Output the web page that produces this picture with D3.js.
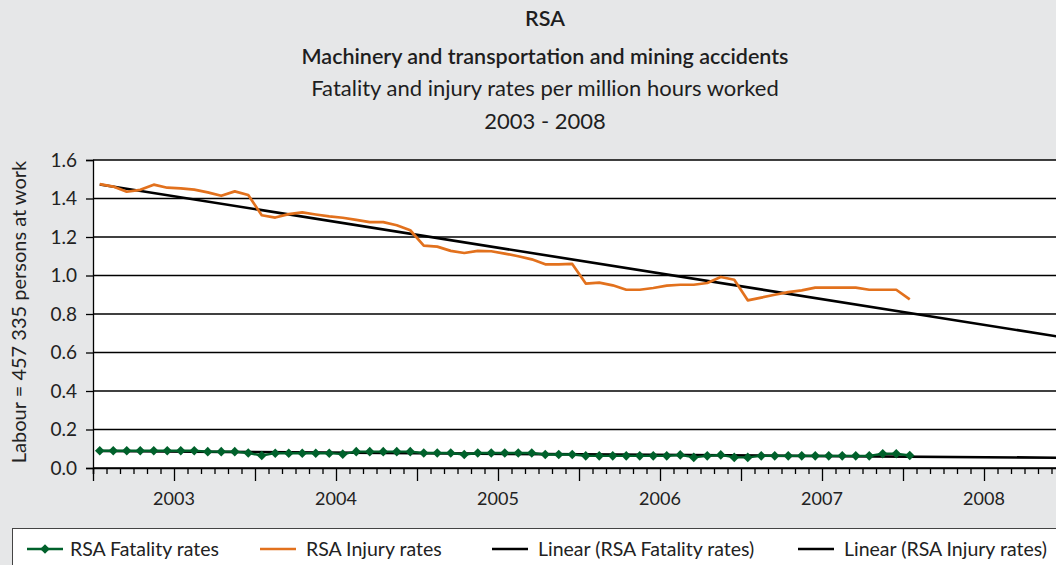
<!DOCTYPE html>
<html>
<head>
<meta charset="utf-8">
<script src="https://cdn.jsdelivr.net/npm/d3@7/dist/d3.min.js"></script>
<style>
  body { margin: 0; background: #e6e7e8; overflow: hidden; }
  svg { display: block; font-family: Lato, "Open Sans", sans-serif; }
</style>
</head>
<body>
<div id="chart"></div>
<script>
// monthly values, Jan 2003 .. Jan 2008
const fatality = [0.09, 0.09, 0.09, 0.09, 0.09, 0.09, 0.09, 0.09, 0.085, 0.085,
  0.085, 0.078, 0.065, 0.077, 0.077, 0.077, 0.077, 0.077, 0.072, 0.085,
  0.085, 0.085, 0.085, 0.085, 0.078, 0.078, 0.078, 0.07, 0.078, 0.078,
  0.078, 0.078, 0.078, 0.07, 0.07, 0.07, 0.063, 0.063, 0.063, 0.063,
  0.063, 0.063, 0.063, 0.068, 0.055, 0.063, 0.068, 0.055, 0.055, 0.063,
  0.063, 0.063, 0.063, 0.063, 0.063, 0.063, 0.063, 0.063, 0.074, 0.074,
  0.065];
const injury = [1.475, 1.462, 1.435, 1.445, 1.472, 1.456, 1.453, 1.446, 1.432, 1.414,
  1.437, 1.418, 1.313, 1.301, 1.319, 1.328, 1.317, 1.307, 1.300, 1.289,
  1.277, 1.277, 1.261, 1.235, 1.155, 1.150, 1.128, 1.117, 1.128, 1.126,
  1.114, 1.100, 1.084, 1.058, 1.058, 1.060, 0.958, 0.963, 0.949, 0.926,
  0.926, 0.935, 0.947, 0.952, 0.952, 0.961, 0.992, 0.978, 0.871, 0.885,
  0.900, 0.914, 0.923, 0.937, 0.937, 0.937, 0.937, 0.926, 0.926, 0.926,
  0.876];
const years = ["2003", "2004", "2005", "2006", "2007", "2008"];
const yTicks = [0, 0.2, 0.4, 0.6, 0.8, 1.0, 1.2, 1.4, 1.6];
const titles = ["RSA", "Machinery and transportation and mining accidents",
  "Fatality and injury rates per million hours worked", "2003 - 2008"];
const yLabel = "Labour = 457 335 persons at work";
const legendLabels = ["RSA Fatality rates", "RSA Injury rates",
  "Linear (RSA Fatality rates)", "Linear (RSA Injury rates)"];

const W = 1056, H = 565;
const plotLeft = 93, plotRight = 1065, plotTop = 160, plotBottom = 468;
const green = "#00612b", orange = "#e2711d";

const svg = d3.select("#chart").append("svg")
  .attr("width", W).attr("height", H);

// titles
const titleY = [26, 64, 96, 129];
svg.selectAll(".title").data(titles).enter().append("text")
  .attr("x", 545).attr("y", (d, i) => titleY[i])
  .attr("text-anchor", "middle")
  .attr("font-size", (d, i) => i < 2 ? 21.5 : 22)
  .attr("font-weight", (d, i) => i < 2 ? 600 : 400)
  .attr("fill", "#1e1e1e")
  .text(d => d);

const x = d3.scaleLinear().domain([0, years.length * 12]).range([plotLeft, plotRight]);
const y = d3.scaleLinear().domain([0, 1.6]).range([plotBottom, plotTop]);

svg.append("rect")
  .attr("x", plotLeft).attr("y", plotTop)
  .attr("width", plotRight - plotLeft).attr("height", plotBottom - plotTop)
  .attr("fill", "#fff");

// gridlines
svg.append("g").selectAll("line").data(yTicks).enter().append("line")
  .attr("x1", plotLeft).attr("x2", plotRight)
  .attr("y1", d => y(d)).attr("y2", d => y(d))
  .attr("stroke", "#000").attr("stroke-width", 1.3);

// y axis
const yAxis = svg.append("g")
  .attr("transform", "translate(" + plotLeft + ",0)")
  .call(d3.axisLeft(y).tickValues(yTicks).tickFormat(d3.format(".1f"))
    .tickSize(7).tickPadding(9));
yAxis.selectAll("text").attr("font-size", 19).attr("fill", "#222")
  .attr("font-family", "Lato, sans-serif");
yAxis.selectAll("line, path").attr("stroke", "#000").attr("stroke-width", 1.3);

svg.append("text")
  .attr("transform", "translate(26," + 312 + ") rotate(-90)")
  .attr("text-anchor", "middle")
  .attr("font-size", 20).attr("fill", "#222")
  .text(yLabel);

// x axis: monthly ticks, long ones every six months
const xAxis = svg.append("g")
  .attr("transform", "translate(0," + plotBottom + ")")
  .call(d3.axisBottom(x).tickValues(d3.range(0, years.length * 12 + 1))
    .tickSize(6).tickFormat(""));
xAxis.selectAll(".tick line")
  .attr("y2", d => d % 6 === 0 ? 13 : 6)
  .attr("stroke", "#000").attr("stroke-width", 1.3);
xAxis.select(".domain").attr("stroke", "#000").attr("stroke-width", 1.6);

svg.append("g").selectAll("text").data(years).enter().append("text")
  .attr("x", (d, i) => x(i * 12 + 6))
  .attr("y", plotBottom + 37)
  .attr("text-anchor", "middle")
  .attr("font-size", 18).attr("fill", "#222")
  .text(d => d);

// linear trends (least squares on month index), extended to axis end
function trend(values) {
  const xs = values.map((d, i) => i);
  const mx = d3.mean(xs), my = d3.mean(values);
  const slope = d3.sum(xs, (v, i) => (v - mx) * (values[i] - my)) /
    d3.sum(xs, v => (v - mx) * (v - mx));
  const b = my - slope * mx;
  const end = years.length * 12 - 0.5;
  return [[0, b], [end, b + slope * end]];
}

const line = d3.line().x(d => x(d[0] + 0.5)).y(d => y(d[1]));

[fatality, injury].forEach(values => {
  svg.append("path").datum(trend(values))
    .attr("d", line).attr("fill", "none")
    .attr("stroke", "#000").attr("stroke-width", 2.6);
});

svg.append("path").datum(injury.map((v, i) => [i, v]))
  .attr("d", line).attr("fill", "none")
  .attr("stroke", orange).attr("stroke-width", 2.7)
  .attr("stroke-linejoin", "round");

svg.append("path").datum(fatality.map((v, i) => [i, v]))
  .attr("d", line).attr("fill", "none")
  .attr("stroke", green).attr("stroke-width", 2.4);

const diamond = d3.symbol().type(d3.symbolSquare).size(46);
svg.append("g").selectAll("path").data(fatality).enter().append("path")
  .attr("d", diamond)
  .attr("transform", (d, i) => "translate(" + x(i + 0.5) + "," + y(d) + ") rotate(45)")
  .attr("fill", green);

// legend
const legend = svg.append("g");
legend.append("rect")
  .attr("x", 12.5).attr("y", 528.5).attr("width", 1100).attr("height", 60)
  .attr("fill", "#fff").attr("stroke", "#444").attr("stroke-width", 1);

const legendX = [27, 260, 492, 798];
const legendColors = [green, orange, "#000", "#000"];
const items = legend.selectAll(".item").data(legendLabels).enter().append("g")
  .attr("transform", (d, i) => "translate(" + legendX[i] + ",549)");
items.append("line")
  .attr("x1", 0).attr("x2", 36)
  .attr("stroke", (d, i) => legendColors[i]).attr("stroke-width", 2.6);
items.filter((d, i) => i === 0).append("path")
  .attr("d", diamond).attr("transform", "translate(18,0) rotate(45)")
  .attr("fill", green);
items.append("text")
  .attr("x", (d, i) => i === 0 ? 43 : 46).attr("y", 6.5)
  .attr("font-size", 19.5).attr("fill", "#222")
  .text(d => d);
</script>
</body>
</html>
